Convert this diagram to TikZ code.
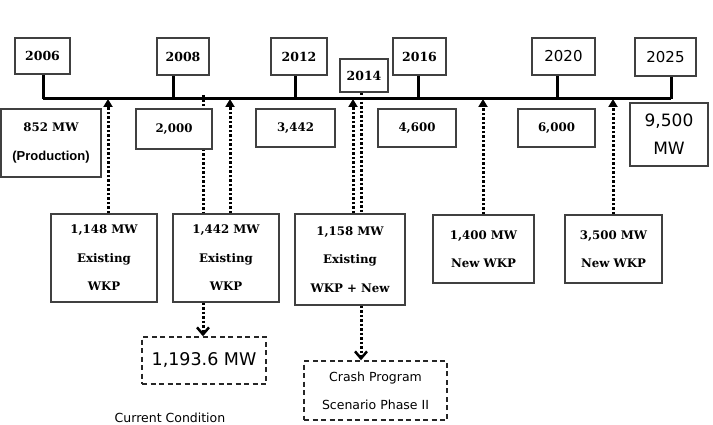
\documentclass[tikz,border=0pt]{standalone}
\usepackage{fontspec}
\usepackage{tikz}
\usetikzlibrary{arrows.meta, backgrounds}

\newfontfamily\georgiafont{DejaVu Serif}
\newfontfamily\comicfont{DejaVu Sans}
\newfontfamily\arialfont{Liberation Sans}

\begin{document}
\begin{tikzpicture}[x=1pt, y=-1pt, line width=1pt,
    box/.style={draw=black!75, line width=1.2pt, fill=white, inner sep=0pt, align=center},
    yearbox/.style={box, font=\georgiafont\bfseries\fontsize{12.5}{15}\selectfont},
    comicyear/.style={box, font=\comicfont\fontsize{15}{18}\selectfont},
    valbox/.style={box, font=\georgiafont\bfseries\fontsize{11.8}{28.5}\selectfont},
    bigbox/.style={box, font=\comicfont\fontsize{17}{28}\selectfont},
    dashbox/.style={draw=black!85, line width=1.4pt, dash pattern=on 5pt off 3.5pt,
                    fill=white, inner sep=0pt, align=center},
    timeline/.style={line width=3pt},
    dotline/.style={line width=3pt, dash pattern=on 2.5pt off 2pt},
    uptip/.style={-{Triangle[width=9pt, length=8pt]}},
    downtip/.style={-{Straight Barb[width=12pt, length=7pt, line width=2.5pt]}}
  ]
    \useasboundingbox (0,0) rectangle (713,425);

    % year boxes above the line
    \node[yearbox, minimum width=55, minimum height=36] (y2006) at (42.5,56) {2006};
    \node[yearbox, minimum width=52, minimum height=37] (y2008) at (183,56.5) {2008};
    \node[yearbox, minimum width=56, minimum height=37] (y2012) at (299,56.5) {2012};
    \node[yearbox, minimum width=48, minimum height=33] (y2014) at (364,75.5) {2014};
    \node[yearbox, minimum width=53, minimum height=37] (y2016) at (419.5,56.5) {2016};
    \node[comicyear, minimum width=63, minimum height=37] (y2020) at (563.5,56.5) {2020};
    \node[comicyear, minimum width=61, minimum height=38] (y2025) at (665.5,57) {2025};

    % capacity boxes below the line
    \node[valbox, minimum width=100, minimum height=68] (v852) at (51,143)
      {852 MW\\{\arialfont\fontsize{13}{28.5}\selectfont (Production)}};
    \node[valbox, minimum width=76, minimum height=40] (v2000) at (174,129) {2,000};
    \node[valbox, minimum width=79, minimum height=38] (v3442) at (295.5,128) {3,442};
    \node[valbox, minimum width=78, minimum height=38] (v4600) at (417,128) {4,600};
    \node[valbox, minimum width=77, minimum height=38] (v6000) at (556.5,128) {6,000};
    \node[bigbox, minimum width=78, minimum height=63] (v9500) at (669,134.5) {9,500\\MW};

    % added capacity boxes
    \node[valbox, minimum width=106, minimum height=88] (b1148) at (104,258)
      {1,148 MW\\Existing\\WKP};
    \node[valbox, minimum width=106, minimum height=88] (b1442) at (226,258)
      {1,442 MW\\Existing\\WKP};
    \node[valbox, minimum width=110, minimum height=91] (b1158) at (350,259.5)
      {1,158 MW\\Existing\\WKP + New};
    \node[valbox, minimum width=101, minimum height=68] (b1400) at (483.5,249)
      {1,400 MW\\New WKP};
    \node[valbox, minimum width=97, minimum height=68] (b3500) at (613.5,249)
      {3,500 MW\\New WKP};

    % scenario boxes
    \node[dashbox, font=\comicfont\fontsize{17.5}{20}\selectfont,
          minimum width=124, minimum height=47] (d1193) at (204,360.5) {1,193.6 MW};
    \node[dashbox, font=\comicfont\fontsize{12.5}{28}\selectfont,
          minimum width=143, minimum height=59] (dcrash) at (375.5,390.5)
      {Crash Program\\Scenario Phase II};
    \node[font=\comicfont\fontsize{12.5}{14}\selectfont] (cur) at (170,418) {Current Condition};

    % points on the line
    \coordinate (t2006) at (43,99);
    \coordinate (t2008) at (173,99);
    \coordinate (t2012) at (295,99);
    \coordinate (t2016) at (418,99);
    \coordinate (t2020) at (557,99);
    \coordinate (t2025) at (671,99);
    \coordinate (a1148) at (108,99);
    \coordinate (a1442) at (230,99);
    \coordinate (a1158) at (353,99);
    \coordinate (a1400) at (483,99);
    \coordinate (a3500) at (613,99);
    \coordinate (k1442) at (203,95);
    \coordinate (k1158) at (361,92);

    \begin{pgfonlayer}{background}
      % draw time line and stems
      \draw[timeline] (t2006) -- (t2025);
      \foreach \yr in {2006, 2008, 2012, 2016, 2020, 2025}
        \draw[timeline] (y\yr.south -| t\yr) -- (t\yr);

      % draw dotted arrows up to the line
      \foreach \mw in {1148, 1442, 1158, 1400, 3500}
        \draw[dotline, uptip] (b\mw.north -| a\mw) -- (a\mw);

      % draw dotted lines down to the scenarios
      \draw[dotline] (k1442) -- (b1442.north -| k1442);
      \draw[dotline, downtip] (b1442.south -| k1442) -- (d1193.north -| k1442);
      \draw[dotline] (y2014.south -| k1158) -- (b1158.north -| k1158);
      \draw[dotline, downtip] (b1158.south -| k1158) -- (dcrash.north -| k1158);
    \end{pgfonlayer}

\end{tikzpicture}
\end{document}
